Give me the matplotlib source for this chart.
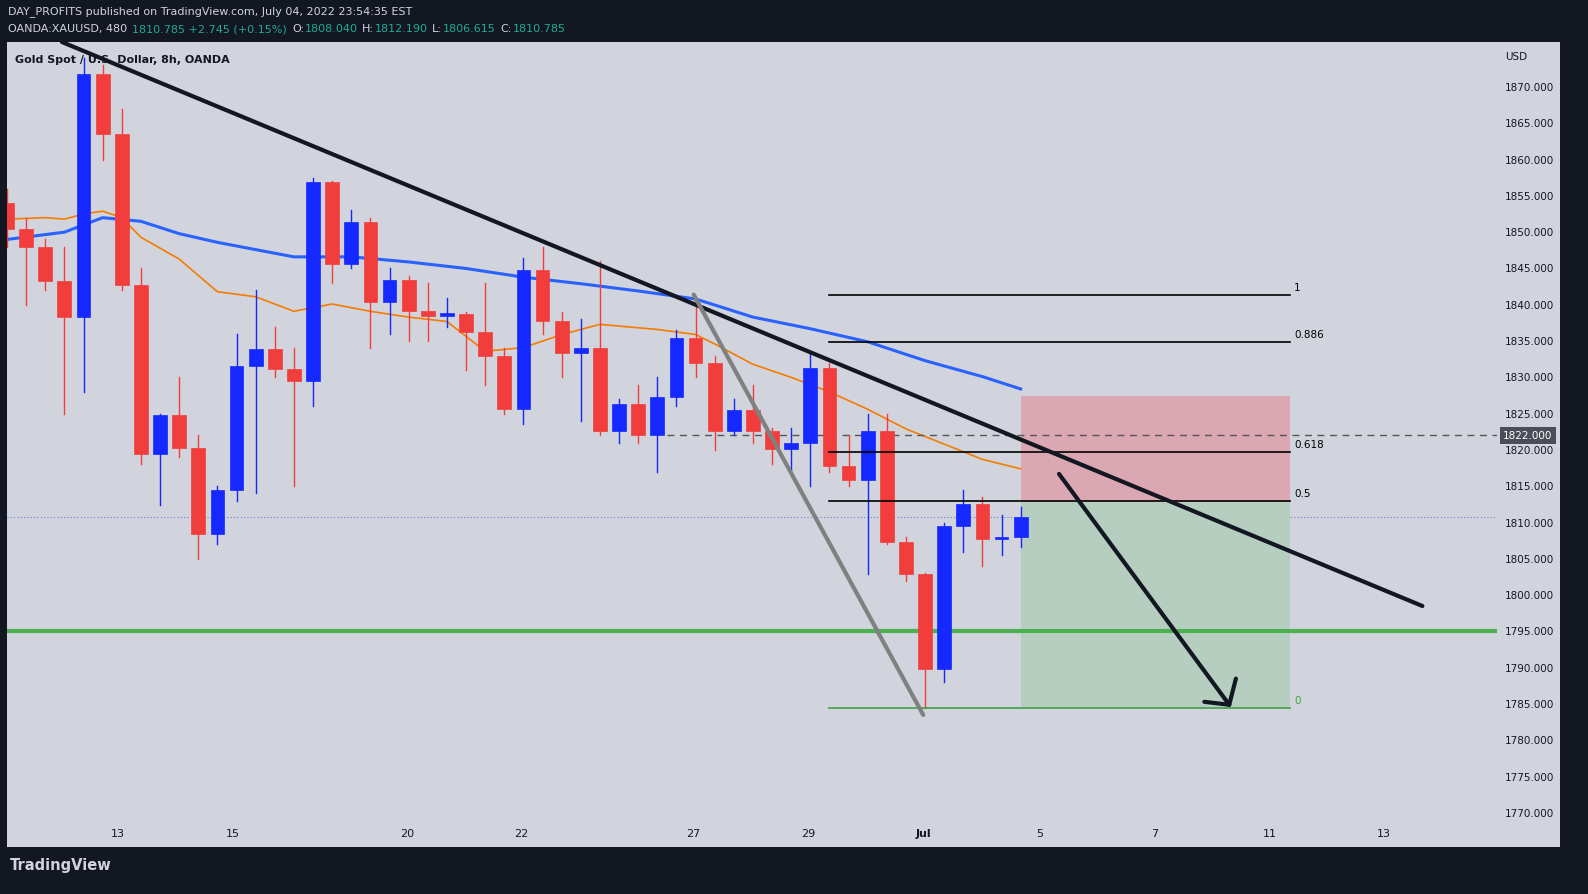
import matplotlib
matplotlib.use("Agg")
import matplotlib.pyplot as plt
from matplotlib.patches import Rectangle

# ---------------- data ----------------
opens  = [1854,1850.5,1848,1843.3,1838.3,1871.8,1863.5,1842.7,1819.5,1824.8,1820.3,1808.4,1814.5,1831.6,1833.9,1831.2,1829.5,1856.9,1845.6,1851.4,1840.4,1843.4,1839.1,1838.5,1838.7,1836.3,1833.0,1825.6,1844.8,1837.8,1833.4,1834.1,1822.6,1826.3,1822.1,1827.3,1835.4,1832.0,1822.6,1825.5,1822.6,1820.1,1821.0,1831.3,1817.8,1815.9,1822.6,1807.3,1802.9,1789.8,1809.5,1812.6,1807.7,1808.04]
highs  = [1856,1852,1849,1848,1874,1873,1867,1845,1825,1830,1822,1815,1836,1842,1837,1834,1857.5,1857,1853,1852,1845,1844,1843,1841,1839,1843,1834,1846.5,1848,1839,1838,1846,1827,1829,1830,1836.5,1841,1833,1827,1829,1823,1823,1833.5,1832,1822,1825,1825,1808,1803,1810,1814.5,1813.5,1811,1812.19]
lows   = [1848,1840,1842,1825,1828,1860,1842,1818,1812.4,1819,1805,1807,1813,1814,1830,1815,1826,1843,1845,1834,1836,1835,1835,1837,1831,1829,1825,1823.6,1836,1830,1824,1822,1821,1821,1817,1826,1830,1820,1822,1821,1818,1817,1815,1817,1815,1802.9,1807,1802,1784.5,1788,1806,1804,1805.5,1806.615]
closes = [1850.5,1848,1843.3,1838.3,1871.8,1863.5,1842.7,1819.5,1824.8,1820.3,1808.4,1814.5,1831.6,1833.9,1831.2,1829.5,1856.9,1845.6,1851.4,1840.4,1843.4,1839.1,1838.5,1838.7,1836.3,1833.0,1825.6,1844.8,1837.8,1833.4,1834.1,1822.6,1826.3,1822.1,1827.3,1835.4,1832.0,1822.6,1825.5,1822.6,1820.1,1821.0,1831.3,1817.8,1815.9,1822.6,1807.3,1802.9,1789.8,1809.5,1812.6,1807.7,1808.0,1810.785]

ma_slow_idx = [0,3,5,7,9,11,15,18,21,24,27,30,33,36,39,42,45,48,51,53]
ma_slow_val = [1849,1850,1852,1851.5,1849.8,1848.6,1846.6,1846.6,1845.9,1845,1843.8,1842.9,1841.9,1840.8,1838.3,1836.7,1834.9,1832.3,1830.1,1828.4]
ma_fast_idx = [0,2,3,4,5,6,7,9,11,13,15,17,19,21,23,25,27,29,31,34,36,37,39,41,43,45,47,49,51,53]
ma_fast_val = [1851.8,1852,1851.8,1852.5,1852.9,1852,1849.3,1846.3,1841.8,1841.1,1839.1,1840.1,1839.1,1838.3,1837.7,1833.6,1834.1,1835.9,1837.3,1836.6,1835.9,1834.6,1831.8,1830,1828,1825.6,1822.9,1820.8,1818.7,1817.4]

fib_ratios = ["1","0.886","0.618","0.5","0"]
fib_prices = [1841.4,1834.9,1819.7,1813.0,1784.5]

date_pos = [5.8,11.8,20.9,26.9,35.9,41.9,47.9,54.0,60.0,66.0,72.0]
date_lbl = ["13","15","20","22","27","29","Jul","5","7","11","13"]
price_ticks = list(range(1770, 1871, 5))

support = 1795.1
dashed_level = 1822.0
last_price = 1810.785
trend = ([2.87, 74.0], [1876.2, 1798.5])
gray_line = ([35.9, 47.9], [1841.4, 1783.5])
fib_x = (43.0, 67.1)
box_x = (53.0, 67.1)
box_stop, box_entry, box_target = 1827.4, 1812.8, 1784.5
arrow = ([55.0, 63.9], [1816.7, 1784.9])

# ---------------- figure ----------------
W, H = 1588, 895
fig = plt.figure(figsize=(W/100, H/100), dpi=100)
fig.patch.set_facecolor("#131722")
BG = "#d1d4dc"
fig.patches.append(Rectangle((7/W, 1-848/H), (1560-7)/W, (848-43)/H, transform=fig.transFigure,
                             facecolor=BG, edgecolor="none", zorder=-5))
ax = fig.add_axes([7/W, 1-848/H, (1497-7)/W, (848-43)/H])
ax.set_zorder(2)
ax.set_facecolor(BG)
for s in ax.spines.values():
    s.set_visible(False)
ax.set_xlim(0, 77.9)
ax.set_ylim(1765.3, 1876.2)

UP, DN = "#1428ff", "#f23d3d"
for i, (o, h, l, c) in enumerate(zip(opens, highs, lows, closes)):
    col = UP if c >= o else DN
    ax.plot([i, i], [l, h], color=col, lw=1, zorder=3)
    ax.add_patch(Rectangle((i-0.36, min(o, c)), 0.72, max(abs(c-o), 0.3), facecolor=col, edgecolor=col, lw=0.5, zorder=4))

ax.plot(ma_slow_idx, ma_slow_val, color="#2962ff", lw=2.2, zorder=2)
ax.plot(ma_fast_idx, ma_fast_val, color="#f57c00", lw=1.2, zorder=2)

ax.axhline(support, color="#4caf50", lw=3, zorder=2)
ax.axhline(last_price, color="#6d7fd8", lw=0.8, ls=(0, (1, 2)), zorder=1)
ax.plot([34.5, 77.9], [dashed_level]*2, color="#555555", lw=1, ls=(0, (5, 4)), zorder=2)

ax.add_patch(Rectangle((box_x[0], box_entry), box_x[1]-box_x[0], box_stop-box_entry, facecolor="#dba7b2", edgecolor="none", zorder=1))
ax.add_patch(Rectangle((box_x[0], box_target), box_x[1]-box_x[0], box_entry-box_target, facecolor="#b6cec0", edgecolor="none", zorder=1))

for r, p in zip(fib_ratios, fib_prices):
    col = "#43a047" if r == "0" else "#000000"
    ax.plot(fib_x, [p, p], color=col, lw=1.2, zorder=5)
    ax.text(fib_x[1]+0.2, p+0.4, r, fontsize=7.5, color=col, va="bottom", ha="left", zorder=6)

ax.plot(*trend, color="#131722", lw=3, zorder=6, solid_capstyle="round")
ax.plot(*gray_line, color="#808080", lw=3, zorder=6, solid_capstyle="round")
ax.plot(*arrow, color="#131722", lw=3, zorder=6, solid_capstyle="round")
ax.plot([arrow[0][1], arrow[0][1]+0.35], [arrow[1][1], arrow[1][1]+3.6], color="#131722", lw=3, zorder=6, solid_capstyle="round")
ax.plot([arrow[0][1], arrow[0][1]-1.3], [arrow[1][1], arrow[1][1]+0.4], color="#131722", lw=3, zorder=6, solid_capstyle="round")

ax.set_xticks([]); ax.set_yticks([])
for p, l in zip(date_pos, date_lbl):
    ax.text(p, 1767.2, l, fontsize=8, color="#131722", ha="center", va="center",
            fontweight="bold" if l == "Jul" else "normal")

# right price axis
def ypix(p):
    return 1 - (43 + (1876.2 - p) / (1876.2 - 1765.3) * 805) / H
for p in price_ticks:
    fig.text(1505/W, ypix(p), f"{p:.3f}", fontsize=7.5, color="#131722", va="center", ha="left")
fig.text(1505/W, 1-57/H, "USD", fontsize=7.5, color="#131722", va="center", ha="left")
fig.text(1528/W, ypix(dashed_level), f"{dashed_level:.3f}", fontsize=7.5, color="white", va="center", ha="center",
         bbox=dict(boxstyle="square,pad=0.3", facecolor="#4a4e58", edgecolor="none"))

fig.text(15/W, 1-60/H, "Gold Spot / U.S. Dollar, 8h, OANDA", fontsize=8, fontweight="bold", color="#131722", va="center")

# header
fig.text(8/W, 1-12/H, "DAY_PROFITS published on TradingView.com, July 04, 2022 23:54:35 EST", fontsize=8, color="#d1d4dc", va="center")
G = "#22ab94"
segs = [(8, "OANDA:XAUUSD, 480", "#d1d4dc"), (132, "1810.785 +2.745 (+0.15%)", G),
        (292, "O:", "#d1d4dc"), (305, "1808.040", G), (362, "H:", "#d1d4dc"), (375, "1812.190", G),
        (432, "L:", "#d1d4dc"), (443, "1806.615", G), (500, "C:", "#d1d4dc"), (513, "1810.785", G)]
for x, t, c in segs:
    fig.text(x/W, 1-29/H, t, fontsize=8, color=c, va="center")
fig.text(10/W, 1-866/H, "TradingView", fontsize=10.5, fontweight="bold", color="#d1d4dc", va="center")

fig.savefig("out.png", dpi=100, facecolor=fig.get_facecolor())
